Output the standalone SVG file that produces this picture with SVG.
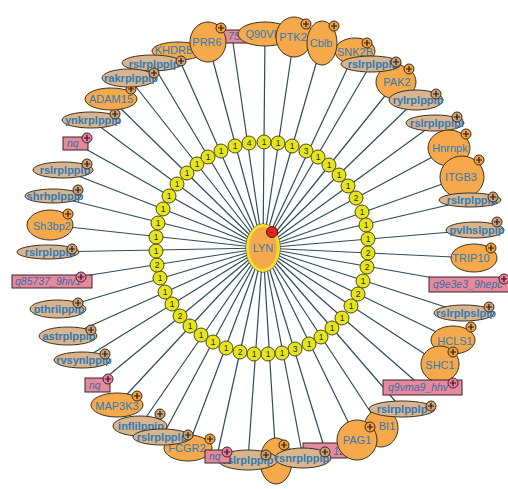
<svg xmlns="http://www.w3.org/2000/svg" xmlns:xlink="http://www.w3.org/1999/xlink" width="508" height="489" viewBox="0 0 508 489">
<defs>
<style>
.o{fill:#f6a94b;stroke:#3b3322;stroke-width:1}
.t{fill:#d9b48c;stroke:#3b3322;stroke-width:1}
.p{fill:#e48a9c;stroke:#3b2226;stroke-width:1}
.lb{font-family:"Liberation Sans",Arial,sans-serif;font-size:11px;fill:#2e7bb8;text-anchor:middle}
.lt{font-family:"Liberation Sans",Arial,sans-serif;font-size:11px;font-weight:bold;fill:#2e7bb8;text-anchor:middle}
.li{font-family:"Liberation Sans",Arial,sans-serif;font-size:10.5px;font-style:italic;fill:#3d6aa3}
.bo{fill:#f0a040}
.bt{fill:#c9a27a}
.bp{fill:#e87ca4}
.rc{fill:#e6e41c;stroke:#4b4a12;stroke-width:1}
.rn{font-family:"Liberation Sans",Arial,sans-serif;font-size:8.5px;fill:#2a2a10;text-anchor:middle}
</style>
<g id="b"><circle r="5" stroke="#3b2a1a" stroke-width="1"/><path d="M-3 0H3M0 -3V3" stroke="#2a1a10" stroke-width="1.2"/></g>
</defs>
<rect width="508" height="489" fill="#ffffff"/>
<g id="edges" stroke="#2d4c5c" stroke-width="1.2" fill="none">
<line x1="265" y1="34" x2="263" y2="248"/>
<line x1="294" y1="37" x2="263" y2="248"/>
<line x1="322" y1="43" x2="263" y2="248"/>
<line x1="355" y1="52" x2="263" y2="248"/>
<line x1="371" y1="64" x2="263" y2="248"/>
<line x1="396" y1="82" x2="263" y2="248"/>
<line x1="416" y1="100" x2="263" y2="248"/>
<line x1="435" y1="123" x2="263" y2="248"/>
<line x1="449" y1="148" x2="263" y2="248"/>
<line x1="462" y1="177" x2="263" y2="248"/>
<line x1="470" y1="200" x2="263" y2="248"/>
<line x1="475" y1="230" x2="263" y2="248"/>
<line x1="474" y1="258" x2="263" y2="248"/>
<line x1="468" y1="284" x2="263" y2="248"/>
<line x1="464" y1="313" x2="263" y2="248"/>
<line x1="453" y1="340" x2="263" y2="248"/>
<line x1="440" y1="364" x2="263" y2="248"/>
<line x1="422" y1="387" x2="263" y2="248"/>
<line x1="402" y1="409" x2="263" y2="248"/>
<line x1="381" y1="428" x2="263" y2="248"/>
<line x1="357" y1="440" x2="263" y2="248"/>
<line x1="325" y1="450" x2="263" y2="248"/>
<line x1="303" y1="458" x2="263" y2="248"/>
<line x1="276" y1="461" x2="263" y2="248"/>
<line x1="248" y1="460" x2="263" y2="248"/>
<line x1="217" y1="456" x2="263" y2="248"/>
<line x1="188" y1="447" x2="263" y2="248"/>
<line x1="162" y1="437" x2="263" y2="248"/>
<line x1="140" y1="426" x2="263" y2="248"/>
<line x1="117" y1="405" x2="263" y2="248"/>
<line x1="97" y1="385" x2="263" y2="248"/>
<line x1="82" y1="360" x2="263" y2="248"/>
<line x1="68" y1="336" x2="263" y2="248"/>
<line x1="58" y1="309" x2="263" y2="248"/>
<line x1="52" y1="281" x2="263" y2="248"/>
<line x1="48" y1="252" x2="263" y2="248"/>
<line x1="50" y1="225" x2="263" y2="248"/>
<line x1="53" y1="196" x2="263" y2="248"/>
<line x1="63" y1="170" x2="263" y2="248"/>
<line x1="75" y1="143" x2="263" y2="248"/>
<line x1="91" y1="120" x2="263" y2="248"/>
<line x1="111" y1="99" x2="263" y2="248"/>
<line x1="129" y1="78" x2="263" y2="248"/>
<line x1="152" y1="63" x2="263" y2="248"/>
<line x1="176" y1="52" x2="263" y2="248"/>
<line x1="208" y1="42" x2="263" y2="248"/>
<line x1="232" y1="36" x2="263" y2="248"/>
</g>
<g id="ring">
<circle class="rc" cx="264" cy="142" r="7"/><text class="rn" x="264" y="145">1</text>
<circle class="rc" cx="278" cy="143" r="7"/><text class="rn" x="278" y="146">1</text>
<circle class="rc" cx="292" cy="146" r="7"/><text class="rn" x="292" y="149">1</text>
<circle class="rc" cx="306" cy="151" r="7"/><text class="rn" x="306" y="154">3</text>
<circle class="rc" cx="318" cy="157" r="7"/><text class="rn" x="318" y="160">1</text>
<circle class="rc" cx="329" cy="165" r="7"/><text class="rn" x="329" y="168">1</text>
<circle class="rc" cx="339" cy="175" r="7"/><text class="rn" x="339" y="178">1</text>
<circle class="rc" cx="348" cy="186" r="7"/><text class="rn" x="348" y="189">1</text>
<circle class="rc" cx="356" cy="198" r="7"/><text class="rn" x="356" y="201">2</text>
<circle class="rc" cx="362" cy="212" r="7"/><text class="rn" x="362" y="215">1</text>
<circle class="rc" cx="366" cy="225" r="7"/><text class="rn" x="366" y="228">1</text>
<circle class="rc" cx="368" cy="239" r="7"/><text class="rn" x="368" y="242">1</text>
<circle class="rc" cx="368" cy="253" r="7"/><text class="rn" x="368" y="256">2</text>
<circle class="rc" cx="367" cy="267" r="7"/><text class="rn" x="367" y="270">2</text>
<circle class="rc" cx="363" cy="281" r="7"/><text class="rn" x="363" y="284">1</text>
<circle class="rc" cx="358" cy="294" r="7"/><text class="rn" x="358" y="297">2</text>
<circle class="rc" cx="351" cy="306" r="7"/><text class="rn" x="351" y="309">1</text>
<circle class="rc" cx="342" cy="318" r="7"/><text class="rn" x="342" y="321">1</text>
<circle class="rc" cx="332" cy="328" r="7"/><text class="rn" x="332" y="331">1</text>
<circle class="rc" cx="321" cy="337" r="7"/><text class="rn" x="321" y="340">1</text>
<circle class="rc" cx="309" cy="344" r="7"/><text class="rn" x="309" y="347">1</text>
<circle class="rc" cx="295" cy="349" r="7"/><text class="rn" x="295" y="352">3</text>
<circle class="rc" cx="282" cy="353" r="7"/><text class="rn" x="282" y="356">1</text>
<circle class="rc" cx="268" cy="354" r="7"/><text class="rn" x="268" y="357">1</text>
<circle class="rc" cx="254" cy="354" r="7"/><text class="rn" x="254" y="357">1</text>
<circle class="rc" cx="240" cy="352" r="7"/><text class="rn" x="240" y="355">2</text>
<circle class="rc" cx="226" cy="348" r="7"/><text class="rn" x="226" y="351">1</text>
<circle class="rc" cx="213" cy="342" r="7"/><text class="rn" x="213" y="345">1</text>
<circle class="rc" cx="201" cy="335" r="7"/><text class="rn" x="201" y="338">1</text>
<circle class="rc" cx="190" cy="326" r="7"/><text class="rn" x="190" y="329">1</text>
<circle class="rc" cx="180" cy="316" r="7"/><text class="rn" x="180" y="319">2</text>
<circle class="rc" cx="172" cy="304" r="7"/><text class="rn" x="172" y="307">1</text>
<circle class="rc" cx="165" cy="292" r="7"/><text class="rn" x="165" y="295">1</text>
<circle class="rc" cx="160" cy="278" r="7"/><text class="rn" x="160" y="281">1</text>
<circle class="rc" cx="157" cy="265" r="7"/><text class="rn" x="157" y="268">2</text>
<circle class="rc" cx="156" cy="251" r="7"/><text class="rn" x="156" y="254">1</text>
<circle class="rc" cx="156" cy="237" r="7"/><text class="rn" x="156" y="240">1</text>
<circle class="rc" cx="158" cy="223" r="7"/><text class="rn" x="158" y="226">1</text>
<circle class="rc" cx="163" cy="209" r="7"/><text class="rn" x="163" y="212">1</text>
<circle class="rc" cx="169" cy="196" r="7"/><text class="rn" x="169" y="199">1</text>
<circle class="rc" cx="177" cy="184" r="7"/><text class="rn" x="177" y="187">1</text>
<circle class="rc" cx="187" cy="173" r="7"/><text class="rn" x="187" y="176">1</text>
<circle class="rc" cx="197" cy="164" r="7"/><text class="rn" x="197" y="167">1</text>
<circle class="rc" cx="208" cy="157" r="7"/><text class="rn" x="208" y="160">1</text>
<circle class="rc" cx="221" cy="151" r="7"/><text class="rn" x="221" y="154">1</text>
<circle class="rc" cx="235" cy="146" r="7"/><text class="rn" x="235" y="149">1</text>
<circle class="rc" cx="249" cy="143" r="7"/><text class="rn" x="249" y="146">4</text>
</g>
<g id="n-7s3"><rect class="p" x="212" y="30" width="40" height="13"/><text class="li" x="228" y="40">7S3</text></g>
<g id="n-khdrb"><ellipse class="o" cx="178" cy="51" rx="26" ry="9"/><text class="lb" x="174" y="54">KHDRB</text></g>
<g id="n-rslr44"><ellipse class="t" cx="152" cy="63" rx="30" ry="8"/><text class="lt" x="154" y="67.5">rslrplpplp</text><use href="#b" class="bt" x="181" y="61"/></g>
<g id="n-prr6"><ellipse class="o" cx="208" cy="42" rx="18" ry="20"/><text class="lb" x="207" y="46">PRR6</text><use href="#b" class="bo" x="221" y="28"/></g>
<g id="n-q90vi"><ellipse class="o" cx="265" cy="34" rx="27" ry="12"/><text class="lb" x="261" y="38">Q90VI</text></g>
<g id="n-ptk2"><ellipse class="o" cx="294" cy="37" rx="18" ry="20"/><text class="lb" x="293" y="41">PTK2</text><use href="#b" class="bo" x="306" y="24"/></g>
<g id="n-snk2b"><ellipse class="o" cx="355" cy="51" rx="20" ry="13"/><text class="lb" x="355" y="56">SNK2B</text><use href="#b" class="bo" x="367" y="43"/></g>
<g id="n-cblb"><ellipse class="o" cx="322" cy="43" rx="15" ry="22"/><text class="lb" x="321" y="47">Cblb</text><use href="#b" class="bo" x="334" y="26"/></g>
<g id="n-pak2"><ellipse class="o" cx="396" cy="82" rx="20" ry="17"/><text class="lb" x="397" y="86">PAK2</text><use href="#b" class="bo" x="409" y="69"/></g>
<g id="n-rslr5"><ellipse class="t" cx="371" cy="64" rx="30" ry="8"/><text class="lt" x="373" y="68">rslrplpplp</text><use href="#b" class="bt" x="396" y="62"/></g>
<g id="n-rylr"><ellipse class="t" cx="416" cy="100" rx="27" ry="10"/><text class="lt" x="418" y="104">rylrplpplp</text><use href="#b" class="bt" x="436" y="94"/></g>
<g id="n-rslrl"><ellipse class="t" cx="435" cy="123" rx="29" ry="8"/><text class="lt" x="437" y="127">rslrplpplpl</text><use href="#b" class="bt" x="457" y="117"/></g>
<g id="n-hnrnpk"><ellipse class="o" cx="449" cy="148" rx="21" ry="18"/><text class="lb" x="450" y="152">Hnrnpk</text><use href="#b" class="bo" x="466" y="134"/></g>
<g id="n-itgb3"><ellipse class="o" cx="462" cy="177" rx="22" ry="21"/><text class="lb" x="461" y="181">ITGB3</text><use href="#b" class="bo" x="479" y="160"/></g>
<g id="n-rslr11"><ellipse class="t" cx="470" cy="200" rx="31" ry="7"/><text class="lt" x="472" y="204">rslrplpplp</text><use href="#b" class="bt" x="493" y="197"/></g>
<g id="n-pvlh"><ellipse class="t" cx="475" cy="230" rx="29" ry="8"/><text class="lt" x="477" y="234">pvlhslppip</text><use href="#b" class="bt" x="497" y="222"/></g>
<g id="n-trip10"><ellipse class="o" cx="474" cy="258" rx="23" ry="14"/><text class="lb" x="471" y="262">TRIP10</text><use href="#b" class="bo" x="491" y="248"/></g>
<g id="n-q9e3e3"><rect class="p" x="429" y="277" width="82" height="15"/><text class="li" x="433" y="288">q9e3e3_9hepc</text><use href="#b" class="bp" x="504" y="279"/></g>
<g id="n-rslrps"><ellipse class="t" cx="464" cy="313" rx="30" ry="8"/><text class="lt" x="466" y="317">rslrplpslplp</text><use href="#b" class="bt" x="489" y="307"/></g>
<g id="n-hcls1"><ellipse class="o" cx="453" cy="340" rx="22" ry="14"/><text class="lb" x="455" y="345">HCLS1</text><use href="#b" class="bo" x="471" y="327"/></g>
<g id="n-shc1"><ellipse class="o" cx="440" cy="364" rx="19" ry="18"/><text class="lb" x="440" y="369">SHC1</text><use href="#b" class="bo" x="453" y="352"/></g>
<g id="n-q9vma9"><rect class="p" x="383" y="380" width="79" height="15"/><text class="li" x="388" y="391">q9vma9_hhv</text><use href="#b" class="bp" x="453" y="383"/></g>
<g id="n-bi1"><ellipse class="o" cx="381" cy="428" rx="17" ry="19"/><text class="lb" x="387" y="430">BI1</text></g>
<g id="n-rslr19"><ellipse class="t" cx="402" cy="409" rx="33" ry="8"/><text class="lt" x="402" y="413">rslrplpplp</text><use href="#b" class="bt" x="431" y="406"/></g>
<g id="n-big"><ellipse class="o" cx="276" cy="461" rx="16" ry="23"/><use href="#b" class="bo" x="284" y="445"/></g>
<g id="n-q12"><rect class="p" x="303" y="443" width="44" height="15"/><text class="li" x="345" y="455" text-anchor="end">12</text></g>
<g id="n-pag1"><ellipse class="o" cx="357" cy="440" rx="20" ry="20"/><text class="lb" x="357" y="444">PAG1</text><use href="#b" class="bo" x="370" y="427"/></g>
<g id="n-srpl"><ellipse class="t" cx="248" cy="460" rx="30" ry="10"/><text class="lt" x="248" y="464">rslrplppip</text><use href="#b" class="bt" x="266" y="455"/></g>
<g id="n-rsnr"><ellipse class="t" cx="303" cy="458" rx="28" ry="10"/><text class="lt" x="302" y="462">rsnrplppip</text><use href="#b" class="bt" x="325" y="452"/></g>
<g id="n-fcgr2"><ellipse class="o" cx="188" cy="448" rx="24" ry="13"/><text class="lb" x="187" y="452">FCGR2</text><use href="#b" class="bo" x="210" y="439"/></g>
<g id="n-nq26"><rect class="p" x="205" y="450" width="25" height="13"/><text class="li" x="209" y="460">nq</text><use href="#b" class="bp" x="227" y="452"/></g>
<g id="n-map3k3"><ellipse class="o" cx="117" cy="405" rx="26" ry="12"/><text class="lb" x="117" y="410">MAP3K3</text><use href="#b" class="bo" x="137" y="396"/></g>
<g id="n-infl"><ellipse class="t" cx="140" cy="426" rx="27" ry="10"/><text class="lt" x="141" y="430">inflilppip</text><use href="#b" class="bt" x="160" y="414"/></g>
<g id="n-rslr28"><ellipse class="t" cx="162" cy="437" rx="29" ry="8"/><text class="lt" x="162" y="441">rslrplpplp</text><use href="#b" class="bt" x="188" y="435"/></g>
<g id="n-nq31"><rect class="p" x="85" y="378" width="25" height="14"/><text class="li" x="89" y="389">nq</text><use href="#b" class="bp" x="108" y="379"/></g>
<g id="n-rvsyn"><ellipse class="t" cx="82" cy="360" rx="28" ry="8"/><text class="lt" x="84" y="364">rvsynlppip</text><use href="#b" class="bt" x="105" y="354"/></g>
<g id="n-astr"><ellipse class="t" cx="68" cy="336" rx="29" ry="9"/><text class="lt" x="69" y="340">astrplppip</text><use href="#b" class="bt" x="91" y="330"/></g>
<g id="n-pthr"><ellipse class="t" cx="58" cy="309" rx="28" ry="9"/><text class="lt" x="59" y="313">pthrilppip</text><use href="#b" class="bt" x="78" y="303"/></g>
<g id="n-q85737"><rect class="p" x="12" y="275" width="80" height="13"/><text class="li" x="15" y="285">q85737_9hiv1</text><use href="#b" class="bp" x="81" y="277"/></g>
<g id="n-rslr36"><ellipse class="t" cx="48" cy="252" rx="31" ry="7"/><text class="lt" x="50" y="256">rslrplpplp</text><use href="#b" class="bt" x="72" y="249"/></g>
<g id="n-sh3bp2"><ellipse class="o" cx="50" cy="225" rx="23" ry="15"/><text class="lb" x="52" y="230">Sh3bp2</text><use href="#b" class="bo" x="68" y="214"/></g>
<g id="n-shrh"><ellipse class="t" cx="53" cy="196" rx="28" ry="7"/><text class="lt" x="55" y="200">shrhplppip</text><use href="#b" class="bt" x="78" y="190"/></g>
<g id="n-rslr39"><ellipse class="t" cx="63" cy="170" rx="30" ry="8"/><text class="lt" x="65" y="174">rslrplpplp</text><use href="#b" class="bt" x="87" y="164"/></g>
<g id="n-nq40"><rect class="p" x="63" y="137" width="25" height="13"/><text class="li" x="67" y="147">nq</text><use href="#b" class="bp" x="87" y="138"/></g>
<g id="n-ynkr"><ellipse class="t" cx="91" cy="120" rx="29" ry="8"/><text class="lt" x="93" y="124">ynkrplppip</text><use href="#b" class="bt" x="115" y="114"/></g>
<g id="n-adam15"><ellipse class="o" cx="111" cy="99" rx="26" ry="11"/><text class="lb" x="111" y="103">ADAM15</text><use href="#b" class="bo" x="131" y="89"/></g>
<g id="n-rakr"><ellipse class="t" cx="129" cy="78" rx="27" ry="9"/><text class="lt" x="131" y="82">rakrplppip</text><use href="#b" class="bt" x="154" y="73"/></g>
<g id="n-lyn">
<ellipse cx="263" cy="248" rx="17" ry="24" fill="none" stroke="#4a4020" stroke-width="1"/>
<ellipse cx="263" cy="248" rx="15.5" ry="22.5" fill="#f6a94b" stroke="#f0e030" stroke-width="3"/>
<text class="lb" x="263" y="252">LYN</text>
<circle cx="272" cy="232" r="5.5" fill="#e62222" stroke="#5a1010" stroke-width="1"/>
<path d="M270.5 232.5h2" stroke="#3a0a0a" stroke-width="1"/>
</g>
</svg>
